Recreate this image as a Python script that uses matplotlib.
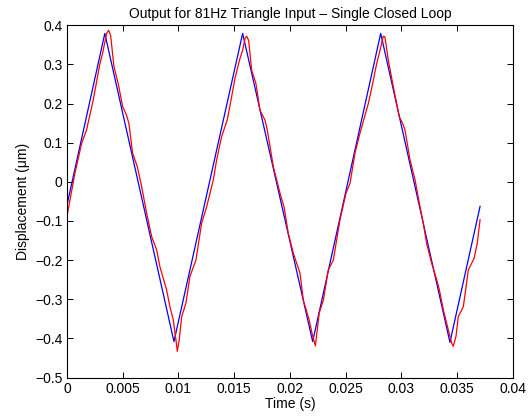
import numpy as np
import matplotlib.pyplot as plt

plt.rcParams['font.family'] = ['Liberation Sans', 'DejaVu Sans']

# reference triangle (blue) - corner points
t_ref = [0.0, 0.0034, 0.0096, 0.01576, 0.02204, 0.02814, 0.03435, 0.03705]
y_ref = [-0.060, 0.379, -0.408, 0.379, -0.408, 0.379, -0.410, -0.063]

# measured output (red)
t_out = [0.0, 0.00072, 0.00132, 0.00176, 0.00236, 0.00296, 0.0032, 0.00356,
         0.00374, 0.00392, 0.00422, 0.0046, 0.0050, 0.00535, 0.00556, 0.00589,
         0.00631, 0.0067, 0.00715, 0.0076, 0.00805, 0.00834, 0.00894, 0.00924,
         0.00954, 0.00978, 0.0099, 0.01007, 0.01029, 0.01067, 0.01103, 0.01157,
         0.01208, 0.01253, 0.01313, 0.01343, 0.01387, 0.01438, 0.01477, 0.01507,
         0.01552, 0.01576, 0.01597, 0.01612, 0.0163, 0.01657, 0.01695, 0.01731,
         0.01776, 0.01797, 0.01851, 0.01911, 0.01947, 0.01985, 0.0203, 0.0209,
         0.0212, 0.02173, 0.02198, 0.02228, 0.02263, 0.0230, 0.02344, 0.02389,
         0.02449, 0.02503, 0.02539, 0.02583, 0.02628, 0.02703, 0.02742, 0.02778,
         0.02808, 0.02837, 0.02852, 0.02882, 0.02927, 0.02981, 0.03011, 0.03032,
         0.03077, 0.03122, 0.03166, 0.03196, 0.03226, 0.03271, 0.03316, 0.0334,
         0.03376, 0.0342, 0.03451, 0.03465, 0.03489, 0.0351, 0.03555, 0.0360,
         0.03651, 0.0368, 0.03705]
y_out = [-0.089, 0.022, 0.098, 0.132, 0.209, 0.302, 0.328, 0.379,
         0.387, 0.374, 0.294, 0.251, 0.192, 0.170, 0.149, 0.073,
         0.039, -0.012, -0.080, -0.140, -0.174, -0.217, -0.276, -0.319,
         -0.353, -0.404, -0.433, -0.404, -0.345, -0.310, -0.242, -0.200,
         -0.106, -0.064, 0.005, 0.056, 0.115, 0.158, 0.217, 0.264,
         0.315, 0.336, 0.366, 0.372, 0.361, 0.285, 0.251, 0.183,
         0.158, 0.132, 0.039, -0.029, -0.064, -0.131, -0.182, -0.233,
         -0.302, -0.353, -0.387, -0.419, -0.335, -0.302, -0.225, -0.200,
         -0.097, -0.029, -0.004, 0.073, 0.124, 0.200, 0.251, 0.302,
         0.336, 0.372, 0.370, 0.311, 0.243, 0.166, 0.149, 0.132,
         0.056, 0.005, -0.063, -0.106, -0.157, -0.208, -0.250, -0.276,
         -0.327, -0.378, -0.412, -0.420, -0.395, -0.344, -0.319, -0.225,
         -0.196, -0.157, -0.097]

xticks = [0, 0.005, 0.01, 0.015, 0.02, 0.025, 0.03, 0.035, 0.04]
xtick_labels = ['0', '0.005', '0.01', '0.015', '0.02', '0.025', '0.03', '0.035', '0.04']
yticks = [-0.5, -0.4, -0.3, -0.2, -0.1, 0, 0.1, 0.2, 0.3, 0.4]
ytick_labels = ['\u22120.5', '\u22120.4', '\u22120.3', '\u22120.2', '\u22120.1',
                '0', '0.1', '0.2', '0.3', '0.4']

fig = plt.figure(figsize=(5.31, 4.2), dpi=100)
ax = fig.add_axes([0.126, 0.101, 0.840, 0.839])

ax.plot(t_ref, y_ref, color='#0000ff', lw=0.9)
ax.plot(t_out, y_out, color='#ff0000', lw=0.9)

ax.set_xlim(0, 0.04)
ax.set_ylim(-0.5, 0.4)
ax.set_xticks(xticks)
ax.set_xticklabels(xtick_labels)
ax.set_yticks(yticks)
ax.set_yticklabels(ytick_labels)
ax.tick_params(direction='in', length=4, width=0.7, labelsize=10,
               top=True, right=True, pad=3)
for sp in ax.spines.values():
    sp.set_linewidth(0.8)

ax.set_xlabel('Time (s)', fontsize=10, labelpad=1)
ax.set_ylabel('Displacement (\u03bcm)', fontsize=10, labelpad=4)
ax.set_title('Output for 81Hz Triangle Input \u2013 Single Closed Loop',
             fontsize=10, pad=5)

fig.savefig('out.png', dpi=100)
